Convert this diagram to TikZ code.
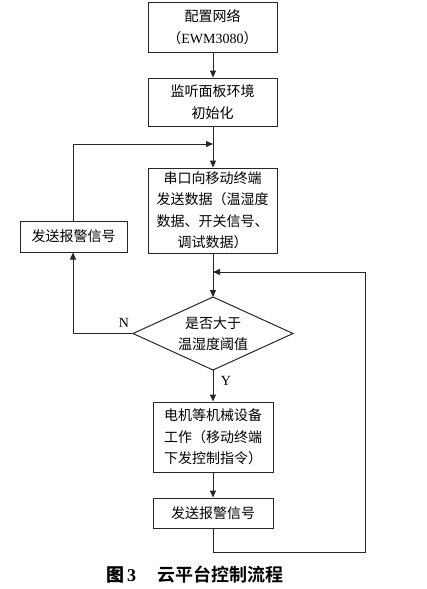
\documentclass[tikz,border=0pt]{standalone}
\usepackage{fontspec}
\setmainfont{Liberation Serif}
\newfontfamily\cjk{Noto Sans CJK SC}
\newfontfamily\cjkb{Noto Sans CJK SC Bold}
\usetikzlibrary{shapes.geometric,arrows.meta}
\begin{document}
\begin{tikzpicture}[x=1pt,y=-1pt,
  box/.style={draw=black!85,line width=1pt,inner sep=0pt,align=center,font=\fontsize{14}{21.5}\selectfont\cjk},
  txt/.style={inner sep=0pt,align=center,font=\fontsize{14}{21.5}\selectfont\cjk},
  line/.style={draw=black!85,line width=1pt},
  arr/.style={line,-{Triangle[length=7pt,width=6pt]}},
  lab/.style={font=\fontsize{14}{16}\selectfont}]
\useasboundingbox (0,0) rectangle (426,589);
\node[box,minimum width=129pt,minimum height=50pt] (b1) at (212.5,27) {配置网络\\（{\rmfamily EWM3080}）};
\node[box,minimum width=129pt,minimum height=48pt] (b2) at (212.5,102) {监听面板环境\\初始化};
\node[box,minimum width=129pt,minimum height=85pt] (b3) at (212.5,210.5) {串口向移动终端\\发送数据（温湿度\\数据、开关信号、\\调试数据）};
\node[box,minimum width=107pt,minimum height=31pt] (al) at (73.5,236.5) {发送报警信号};
\coordinate (dN) at (213,297);
\coordinate (dS) at (213,370);
\coordinate (dW) at (133,333.5);
\coordinate (dE) at (293,333.5);
\draw[line] (dN) -- (dE) -- (dS) -- (dW) -- cycle;
\node[txt] (d) at (213,333.5) {是否大于\\温湿度阈值};
\node[box,minimum width=120pt,minimum height=70pt] (b4) at (213,437) {电机等机械设备\\工作（移动终端\\下发控制指令）};
\node[box,minimum width=120pt,minimum height=30pt] (b5) at (213,513) {发送报警信号};
\coordinate (j1) at (213,144);
\coordinate (j2) at (213,272);
\coordinate (c1) at (73,144);
\coordinate (c2) at (73,333.5);
\coordinate (c3) at (213,552);
\coordinate (c4) at (365,552);
\coordinate (c5) at (365,272);
\draw[arr] (b1.south -| j1) -- (b2.north -| j1);
\draw[arr] (b2.south -| j1) -- (b3.north -| j1);
\draw[arr] (b3.south -| j1) -- (dN);
\draw[arr] (dS) -- (b4.north);
\draw[arr] (b4.south) -- (b5.north);
\draw[arr] (dW) -- (c2) -- (al.south -| c2);
\draw[arr] (al.north -| c1) -- (c1) -- (j1);
\draw[arr] (b5.south) -- (c3) -- (c4) -- (c5) -- (j2);
\node[lab] (n) at (124,323) {N};
\node[lab] (y) at (226,381) {Y};
\node[font=\fontsize{18}{20}\selectfont] (cap) at (195,575) {{\bfseries\cjkb 图}\,{\bfseries 3}\hspace{1.2em}{\cjkb 云平台控制流程}};
\end{tikzpicture}
\end{document}
